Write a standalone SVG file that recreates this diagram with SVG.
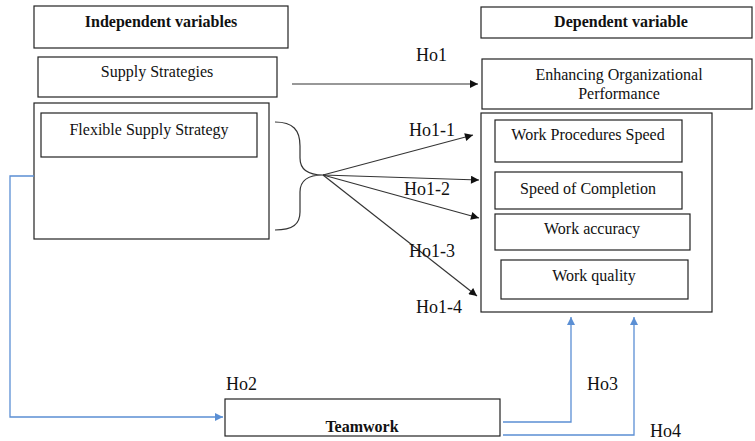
<svg xmlns="http://www.w3.org/2000/svg" width="755" height="441" viewBox="0 0 755 441">
<style>
.box{fill:#fff;stroke:#222;stroke-width:1.2}
.t{font-family:"Liberation Serif","Times New Roman",serif;font-size:16px;fill:#111;text-anchor:middle}
.b{font-weight:bold}
.h{font-family:"Liberation Serif","Times New Roman",serif;font-size:18px;fill:#111}
.c{fill:none;stroke:#333;stroke-width:1.2}
.bl{fill:none;stroke:#5b8fd4;stroke-width:1.3}
</style>
<defs>
<marker id="ah" viewBox="0 0 10 10" refX="10" refY="5" markerWidth="10" markerHeight="8" markerUnits="userSpaceOnUse" orient="auto"><path d="M0,0 L10,5 L0,10 z" fill="#111"/></marker>
<marker id="ab" viewBox="0 0 10 10" refX="10" refY="5" markerWidth="9" markerHeight="8" markerUnits="userSpaceOnUse" orient="auto"><path d="M0,0 L10,5 L0,10 z" fill="#5b8fd4"/></marker>
</defs>
<rect width="755" height="441" fill="#fff"/>
<g id="independent"><rect class="box" x="34" y="6" width="254" height="42"/><text class="t b" x="161" y="27">Independent variables</text></g>
<g id="supply"><rect class="box" x="38" y="57" width="239" height="40"/><text class="t" x="157" y="77">Supply Strategies</text></g>
<g id="flexgroup"><rect class="box" x="34" y="103" width="235" height="136"/></g>
<g id="flexible"><rect class="box" x="41" y="113" width="216" height="44"/><text class="t" x="149" y="135">Flexible Supply Strategy</text></g>
<g id="dependent"><rect class="box" x="481" y="7" width="271" height="31"/><text class="t b" x="621" y="27">Dependent variable</text></g>
<g id="enhancing"><rect class="box" x="482" y="59" width="270" height="50"/><text class="t" x="619" y="80">Enhancing Organizational</text><text class="t" x="619" y="99">Performance</text></g>
<g id="perfgroup"><rect class="box" x="481" y="113" width="231" height="199"/></g>
<g id="wps"><rect class="box" x="495" y="120" width="187" height="42"/><text class="t" x="588" y="140">Work Procedures Speed</text></g>
<g id="soc"><rect class="box" x="495" y="172" width="187" height="37"/><text class="t" x="588" y="194">Speed of Completion</text></g>
<g id="wa"><rect class="box" x="495" y="214" width="195" height="36"/><text class="t" x="592" y="234">Work accuracy</text></g>
<g id="wq"><rect class="box" x="501" y="260" width="187" height="39"/><text class="t" x="594" y="281">Work quality</text></g>
<g id="teamwork"><rect class="box" x="225" y="399" width="275" height="37"/><text class="t b" x="362" y="432">Teamwork</text></g>
<g id="connectors">
<line class="c" x1="292" y1="84" x2="478" y2="84" marker-end="url(#ah)"/>
<path class="c" d="M275,122 C293,122 300,130 300,146 L300,158 C300,170 309,175 323,175 C309,175 300,180 300,192 L300,212 C300,224 293,230 275,230"/>
<line class="c" x1="323" y1="175" x2="473" y2="135" marker-end="url(#ah)"/>
<line class="c" x1="323" y1="175" x2="479" y2="180" marker-end="url(#ah)"/>
<line class="c" x1="323" y1="175" x2="479" y2="218" marker-end="url(#ah)"/>
<line class="c" x1="323" y1="175" x2="477" y2="296" marker-end="url(#ah)"/>
<path class="bl" d="M34,176 L10,176 L10,417 L223,417" marker-end="url(#ab)"/>
<path class="bl" d="M503,422 L571,422 L571,317" marker-end="url(#ab)"/>
<path class="bl" d="M503,435 L634,435 L634,317" marker-end="url(#ab)"/>
<text class="h" x="416" y="61">Ho1</text>
<text class="h" x="409" y="136">Ho1-1</text>
<text class="h" x="404" y="195">Ho1-2</text>
<text class="h" x="409" y="257">Ho1-3</text>
<text class="h" x="416" y="313">Ho1-4</text>
<text class="h" x="226" y="390">Ho2</text>
<text class="h" x="587" y="390">Ho3</text>
<text class="h" x="650" y="437">Ho4</text>
</g>
</svg>
